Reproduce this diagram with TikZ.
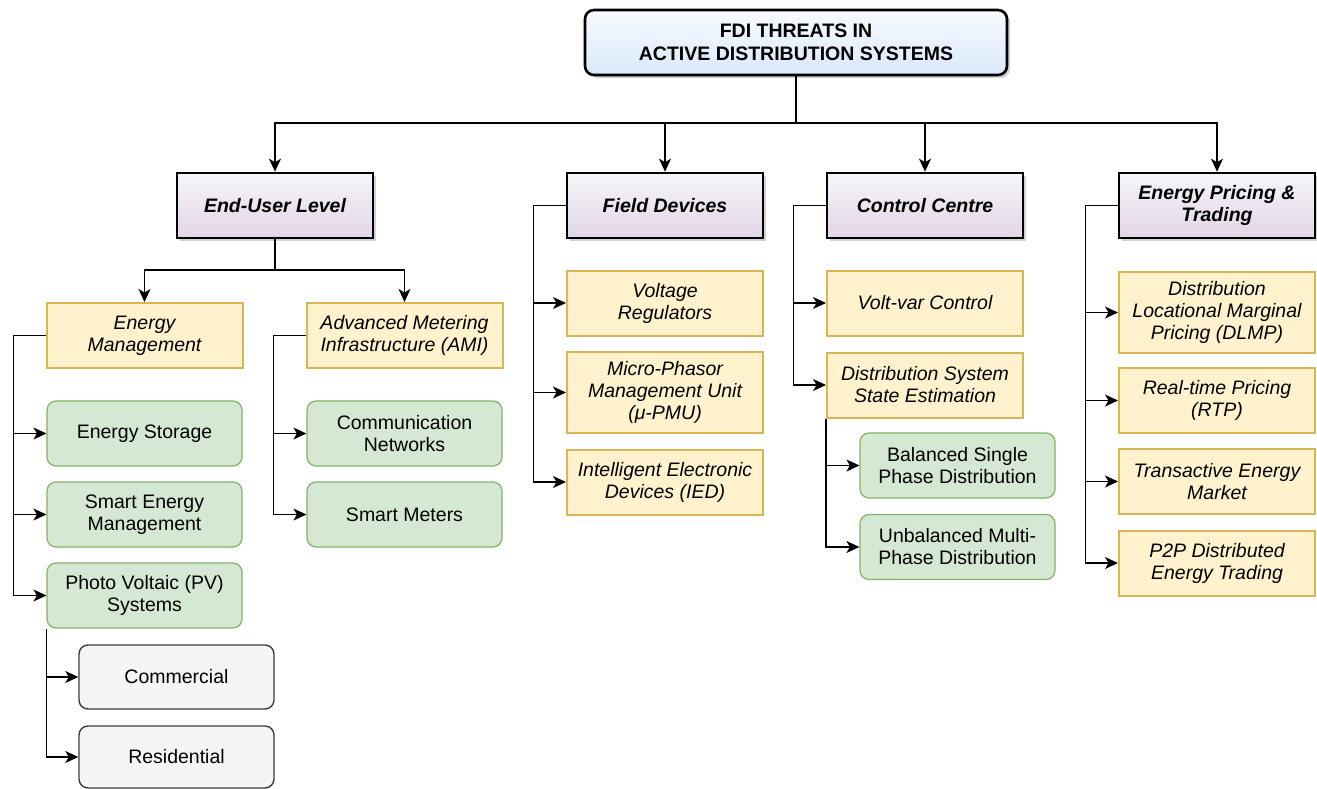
\documentclass[tikz,border=0pt]{standalone}
\usepackage{fontspec}
\setmainfont{Liberation Sans}
\usetikzlibrary{arrows.meta,shadows}

\definecolor{titlefill}{HTML}{DAE8FC}
\definecolor{levelfill}{HTML}{E1D5E7}
\definecolor{subfill}{HTML}{FFF2CC}
\definecolor{subline}{HTML}{D6B656}
\definecolor{leaffill}{HTML}{D5E8D4}
\definecolor{leafline}{HTML}{82B366}
\definecolor{kindfill}{HTML}{F5F5F5}
\definecolor{kindline}{HTML}{3C3C3C}

\begin{document}
\begin{tikzpicture}[x=1pt, y=-1pt,
    every node/.append style={font=\fontsize{19.5}{22}\selectfont, align=center, inner sep=0pt},
    shade/.style={drop shadow={shadow xshift=3pt, shadow yshift=-3pt, opacity=0.35}},
    threat/.style={draw=black, line width=2.6pt, rounded corners=9pt, top color=titlefill!20, bottom color=titlefill,
        minimum width=422pt, minimum height=65pt, font=\fontsize{19.5}{23}\selectfont\bfseries, shade},
    level/.style={draw=black, line width=2.6pt, top color=levelfill!25, bottom color=levelfill,
        minimum width=196pt, minimum height=65pt, font=\fontsize{19.5}{22}\selectfont\bfseries\itshape, shade},
    sub/.style={draw=subline, line width=2pt, fill=subfill, minimum width=196pt, minimum height=65pt,
        font=\fontsize{19.5}{22}\selectfont\itshape},
    leaf/.style={draw=leafline, line width=1.2pt, fill=leaffill, rounded corners=9pt, minimum width=195pt, minimum height=65pt},
    kind/.style={draw=kindline, line width=1.4pt, fill=kindfill, rounded corners=9pt, minimum width=195pt, minimum height=64pt},
    link/.style={line width=1.3pt, -{Stealth[length=13pt, width=12pt, inset=3.5pt]}}]
    \useasboundingbox (0,0) rectangle (1317,789);

    \node[threat] (title) at (796,42.5) {FDI THREATS IN\\ACTIVE DISTRIBUTION SYSTEMS};
    \coordinate (bus) at (796,123);

    % level one
    \node[level] (eul) at (275,205.5) {End-User Level};
    \node[level] (fd) at (665,205.5) {Field Devices};
    \node[level] (cc) at (925,205.5) {Control Centre};
    \node[level] (ept) at (1217,205.5) {Energy Pricing \&\\Trading};

    % level two
    \node[sub] (em) at (144.5,335.5) {Energy\\Management};
    \node[sub] (ami) at (404.5,335.5) {Advanced Metering\\Infrastructure (AMI)};
    \node[sub] (vr) at (665,303) {Voltage\\Regulators};
    \node[sub, minimum height=81pt] (mpmu) at (665,392.5) {Micro-Phasor\\Management Unit\\(μ-PMU)};
    \node[sub] (ied) at (665,482) {Intelligent Electronic\\Devices (IED)};
    \node[sub] (vvc) at (925,303) {Volt-var Control};
    \node[sub] (dsse) at (925,385) {Distribution System\\State Estimation};
    \node[sub, minimum height=81pt] (dlmp) at (1217,312.5) {Distribution\\Locational Marginal\\Pricing (DLMP)};
    \node[sub] (rtp) at (1217,400.5) {Real-time Pricing\\(RTP)};
    \node[sub] (tem) at (1217,481.5) {Transactive Energy\\Market};
    \node[sub] (p2p) at (1217,563) {P2P Distributed\\Energy Trading};

    % level three
    \foreach \n/\x/\y/\t in {
        es/144.5/433.5/Energy Storage,
        sem/144.5/514.5/Smart Energy\\Management,
        pv/144.5/595.5/Photo Voltaic (PV)\\Systems,
        cn/404.5/433.5/Communication\\Networks,
        sm/404.5/514.5/Smart Meters,
        bsp/957.5/465.5/Balanced Single\\Phase Distribution,
        ump/957.5/547/Unbalanced Multi-\\Phase Distribution}
    \node[leaf] (\n) at (\x,\y) {\t};
    \node[kind] (com) at (176.5,677) {Commercial};
    \node[kind, minimum height=62pt] (res) at (176.5,757) {Residential};

    % connectors
    \draw[line width=1.3pt] (title.south) -- (bus);
    \foreach \n in {eul,fd,cc,ept}
    \draw[link] (bus) -| (\n.north);
    \coordinate (eulbus) at (275,270);
    \draw[line width=1.3pt] (eul.south) -- (eulbus);
    \foreach \n in {em,ami}
    \draw[link] (eulbus) -| (\n.north);
    \foreach \p/\c in {em/es, em/sem, em/pv, ami/cn, ami/sm, fd/vr, fd/mpmu, fd/ied,
        cc/vvc, cc/dsse, ept/dlmp, ept/rtp, ept/tem, ept/p2p}
    \draw[link] (\p.west) -- ++(-32,0) |- (\c.west);
    \foreach \p/\c in {pv/com, pv/res, dsse/bsp, dsse/ump}
    \draw[link] (\p.south west) |- (\c.west);
\end{tikzpicture}
\end{document}
